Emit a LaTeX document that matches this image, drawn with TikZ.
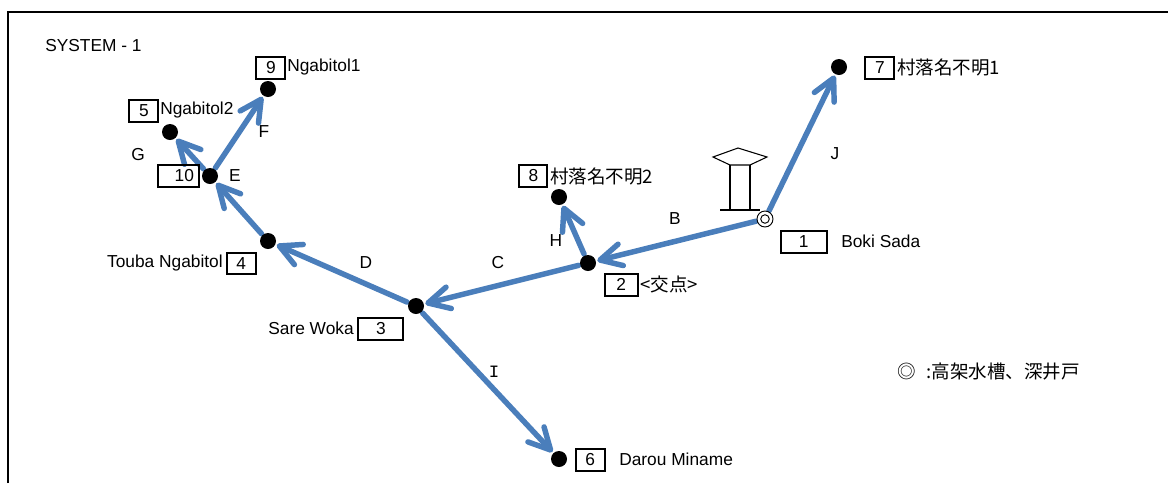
\documentclass[tikz,border=0pt]{standalone}
\usepackage{fontspec}
\setmainfont{Liberation Sans}
\newfontfamily\cjk{Noto Sans CJK JP}
\newfontfamily\monof{Liberation Mono}
\usetikzlibrary{arrows.meta}
\definecolor{flowblue}{RGB}{74,126,187}
\pgfdeclarelayer{linelayer}
\pgfsetlayers{linelayer,main}
\pgfdeclarearrow{
  name=VBarb,
  parameters={\the\pgfarrowlength,\the\pgfarrowwidth},
  setup code={
    \pgfarrowssettipend{0.5\pgflinewidth}
    \pgfarrowssetlineend{-1pt}
    \pgfarrowssavethe\pgfarrowlength
    \pgfarrowssavethe\pgfarrowwidth
  },
  drawing code={
    \pgfsetdash{}{0pt}\pgfsetroundcap\pgfsetroundjoin
    \pgfpathmoveto{\pgfqpoint{-\pgfarrowlength}{0.5\pgfarrowwidth}}
    \pgfpathlineto{\pgfpointorigin}
    \pgfpathlineto{\pgfqpoint{-\pgfarrowlength}{-0.5\pgfarrowwidth}}
    \pgfusepathqstroke
  },
  defaults={length=16pt,width=16.5pt}
}
\tikzset{
  x=0.75pt,y=-0.75pt,
  dot/.style={circle,fill=black,draw=none,inner sep=0pt,minimum size=12pt,outer sep=1.2pt},
  well/.style={circle,draw=black,line width=0.7pt,fill=white,inner sep=0pt,minimum size=12pt,outer sep=0.8pt,
    path picture={\draw[line width=0.7pt] (path picture bounding box.center) circle (3.2pt);}},
  flow/.style={draw=flowblue,line width=4.1pt,line cap=round,-{VBarb}},
  numbox/.style={draw=black,line width=1.2pt,inner sep=0pt,font=\fontsize{13pt}{15pt}\selectfont},
  lbl/.style={inner sep=0pt,font=\fontsize{13pt}{15pt}\selectfont},
  jlbl/.style={inner sep=0pt,font=\fontsize{13.9pt}{16pt}\selectfont\cjk},
  tower/.style={draw=black,line width=0.8pt,line join=miter}
}
\newcommand{\nbox}[7]{\node[numbox,minimum width=#3*0.75pt,minimum height=#4*0.75pt,anchor=north west] (#5) at (#1,#2) {\hspace*{#6pt}#7};}
\begin{document}
\begin{tikzpicture}
\useasboundingbox (0,0) rectangle (1168,483);
% frame
\draw[black,line width=1.5pt] (8,483) -- (8,12) -- (1168,12);
% tower
\draw[tower] (713,157) -- (738,148) -- (767,157) -- (750,165) -- (730,165) -- cycle;
\draw[tower] (730,165) -- (730,210) (750,165) -- (750,210);
\draw[tower] (720,210) -- (760,210);
% nodes
\node[dot] (n9) at (268,89) {};
\node[dot] (n5) at (170,132) {};
\node[dot] (n10) at (210,176) {};
\node[dot] (n4) at (268,241) {};
\node[dot] (n3) at (416,306) {};
\node[dot] (n2) at (588,263) {};
\node[dot] (n8) at (559,197) {};
\node[well] (n1) at (765,219) {};
\node[dot] (n7) at (839,67) {};
\node[dot] (n6) at (559,459) {};
% connectors
\begin{pgfonlayer}{linelayer}
\draw[flow] (n1) -- (n2);
\draw[flow] (n2) -- (n3);
\draw[flow] (n2) -- (n8);
\draw[flow] (n3) -- (n4);
\draw[flow] (n3) -- (n6);
\draw[flow] (n4) -- (n10);
\draw[flow] (n10) -- (n9);
\draw[flow] (n10) -- (n5);
\draw[flow] (n1) -- (n7);
\end{pgfonlayer}
% number boxes
\nbox{255}{56}{29}{22}{b9}{1}{9}
\nbox{128}{99}{29}{22}{b5}{1}{5}
\nbox{157}{164}{41}{22}{b10}{9}{10}
\nbox{226}{252}{29}{21}{b4}{0}{4}
\nbox{357}{317}{45}{22}{b3}{1}{3}
\nbox{518}{164}{28}{22}{b8}{1}{8}
\nbox{604}{273}{33}{22}{b2}{0}{2}
\nbox{780}{230}{46}{22}{b1}{0}{1}
\nbox{864}{56}{29}{22}{b7}{1}{7}
\nbox{575}{448}{29}{22}{b6}{0}{6}
% texts
\node[lbl,anchor=west] (t0) at (45,46) {SYSTEM - 1};
\node[lbl,anchor=west] (t9) at (287,67) {Ngabitol1};
\node[lbl,anchor=west] (t5) at (160,110) {Ngabitol2};
\node[lbl,anchor=east] (t4) at (223,263) {Touba Ngabitol};
\node[lbl,anchor=east] (t3) at (354,328) {Sare Woka};
\node[lbl,anchor=west] (t1) at (841,241) {Boki Sada};
\node[lbl,anchor=west] (t6) at (619,459) {Darou Miname};
\node[jlbl,anchor=west] (t8) at (550,176) {村落名不明2};
\node[jlbl,anchor=west] (t7) at (897,67) {村落名不明1};
\node[jlbl,anchor=west] (t2) at (640,284) {<交点>};
\node[jlbl,anchor=west] (t10) at (897,372) {◎\hspace{8pt}:高架水槽、深井戸};
% connector labels
\node[lbl] (lB) at (675,219) {B};
\node[lbl] (lC) at (498,263) {C};
\node[lbl] (lD) at (366,263) {D};
\node[lbl] (lE) at (235,176) {E};
\node[lbl] (lF) at (264,132) {F};
\node[lbl] (lG) at (138,155) {G};
\node[lbl] (lH) at (556,241) {H};
\node[lbl,font=\fontsize{13pt}{15pt}\selectfont\monof] (lI) at (494,372) {I};
\node[lbl] (lJ) at (835,154) {J};
\end{tikzpicture}
\end{document}
